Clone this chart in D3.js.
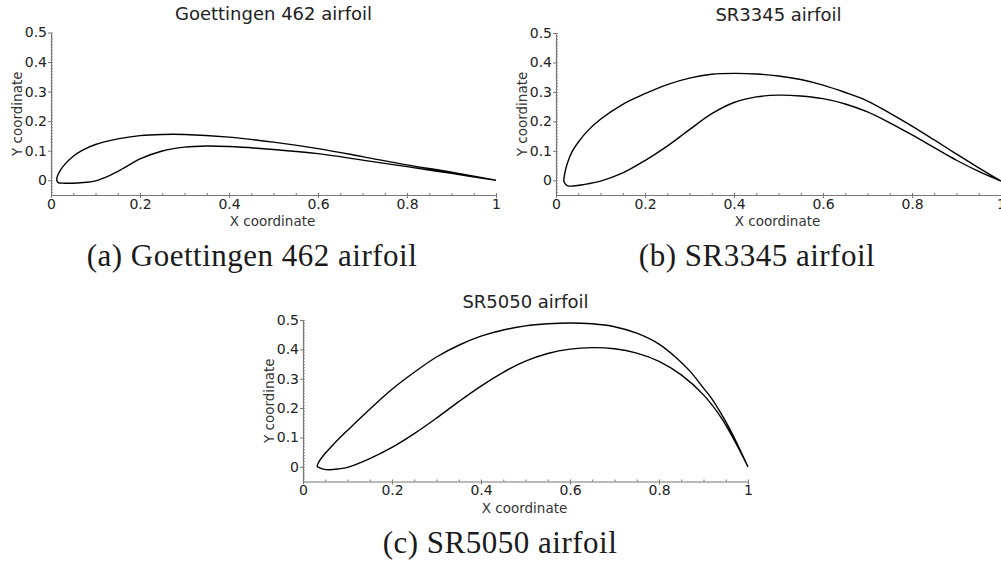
<!DOCTYPE html>
<html>
<head>
<meta charset="utf-8">
<script src="https://cdn.jsdelivr.net/npm/d3@7"></script>
<style>
  body { margin: 0; background: #fff; }
  svg { display: block; }
</style>
</head>
<body>
<svg id="fig" width="1001" height="563"></svg>
<script>
// plot titles and figure captions
const titles = ["Goettingen 462 airfoil", "SR3345 airfoil", "SR5050 airfoil"];
const captions = ["(a) Goettingen 462 airfoil", "(b) SR3345 airfoil", "(c) SR5050 airfoil"];

// tick values
const xTicks = [0, 0.2, 0.4, 0.6, 0.8, 1];
const yTicks = [0, 0.1, 0.2, 0.3, 0.4, 0.5];

// airfoil outlines: upper goes TE -> LE, lower goes LE -> TE
const goeUpper = [[1, 0], [0.9, 0.027], [0.8, 0.052], [0.7, 0.080], [0.6, 0.107], [0.5, 0.129], [0.4, 0.146],
  [0.3, 0.155], [0.25, 0.155], [0.2, 0.151], [0.15, 0.140], [0.1, 0.121], [0.07, 0.101], [0.05, 0.081],
  [0.03, 0.052], [0.02, 0.031], [0.014, 0.012], [0.013, 0]];
const goeLower = [[0.016, -0.008], [0.03, -0.010], [0.05, -0.010], [0.08, -0.007], [0.1, -0.002], [0.13, 0.015],
  [0.16, 0.038], [0.2, 0.072], [0.25, 0.099], [0.3, 0.112], [0.35, 0.116], [0.4, 0.114], [0.5, 0.104],
  [0.6, 0.090], [0.7, 0.068], [0.8, 0.046], [0.9, 0.023], [1, 0]];

const sr3345Upper = [[1, -0.003], [0.95, 0.042], [0.9, 0.089], [0.85, 0.137], [0.8, 0.184], [0.75, 0.228],
  [0.7, 0.269], [0.65, 0.298], [0.6, 0.323], [0.55, 0.342], [0.5, 0.354], [0.45, 0.361], [0.4, 0.363],
  [0.35, 0.360], [0.3, 0.347], [0.25, 0.325], [0.2, 0.294], [0.15, 0.258], [0.1, 0.207], [0.07, 0.166],
  [0.05, 0.129], [0.035, 0.094], [0.025, 0.055], [0.02, 0.025], [0.018, -0.005]];
const sr3345Lower = [[0.025, -0.018], [0.035, -0.020], [0.06, -0.015], [0.1, -0.003], [0.15, 0.025],
  [0.2, 0.067], [0.25, 0.116], [0.3, 0.172], [0.35, 0.226], [0.4, 0.264], [0.45, 0.283], [0.5, 0.289],
  [0.55, 0.286], [0.6, 0.277], [0.65, 0.259], [0.7, 0.232], [0.75, 0.195], [0.8, 0.154], [0.85, 0.111],
  [0.9, 0.068], [0.95, 0.030], [1, -0.003]];

const sr5050Upper = [[1, 0], [0.98, 0.065], [0.96, 0.126], [0.94, 0.180], [0.92, 0.229], [0.9, 0.268],
  [0.87, 0.325], [0.84, 0.370], [0.8, 0.418], [0.75, 0.455], [0.7, 0.477], [0.65, 0.487], [0.6, 0.490],
  [0.55, 0.487], [0.5, 0.480], [0.45, 0.466], [0.4, 0.445], [0.35, 0.414], [0.3, 0.374], [0.25, 0.322],
  [0.2, 0.264], [0.15, 0.196], [0.1, 0.124], [0.07, 0.079], [0.05, 0.046], [0.035, 0.015], [0.032, 0.002]];
const sr5050Lower = [[0.038, -0.004], [0.045, -0.008], [0.06, -0.010], [0.08, -0.007], [0.1, -0.002],
  [0.15, 0.028], [0.2, 0.066], [0.25, 0.113], [0.3, 0.166], [0.35, 0.222], [0.4, 0.275], [0.45, 0.322],
  [0.5, 0.360], [0.55, 0.386], [0.6, 0.401], [0.65, 0.406], [0.7, 0.402], [0.75, 0.387], [0.8, 0.359],
  [0.85, 0.313], [0.9, 0.245], [0.94, 0.167], [0.97, 0.088], [1, 0]];

const panels = [
  { title: titles[0], caption: captions[0], upper: goeUpper, lower: goeLower, left: 51, top: 32.5, bottom: 195, capX: 252, capY: 266 },
  { title: titles[1], caption: captions[1], upper: sr3345Upper, lower: sr3345Lower, left: 556, top: 33, bottom: 195, capX: 757, capY: 266 },
  { title: titles[2], caption: captions[2], upper: sr5050Upper, lower: sr5050Lower, left: 303, top: 320, bottom: 481.5, capX: 500, capY: 553 }
];

const plotW = 445;
const sans = "'DejaVu Sans', Verdana, sans-serif";
const svg = d3.select("#fig");

panels.forEach(p => {
  const x = d3.scaleLinear().domain([0, 1]).range([p.left, p.left + plotW]);
  const y = d3.scaleLinear().domain([-0.05, 0.5]).range([p.bottom, p.top]);
  const g = svg.append("g");

  // minor ticks (inside)
  g.append("g")
    .attr("transform", `translate(0,${p.bottom})`)
    .call(d3.axisBottom(x).tickValues(d3.range(0, 1.0001, 0.05)).tickSize(-2).tickSizeOuter(0).tickFormat(""))
    .call(a => a.select(".domain").remove())
    .call(a => a.selectAll("line").attr("stroke", "#777"));
  g.append("g")
    .attr("transform", `translate(${p.left},0)`)
    .call(d3.axisLeft(y).tickValues(d3.range(-0.05, 0.5001, 0.01)).tickSize(-2).tickSizeOuter(0).tickFormat(""))
    .call(a => a.select(".domain").remove())
    .call(a => a.selectAll("line").attr("stroke", "#999"));

  // main axes
  const xAxis = g.append("g")
    .attr("transform", `translate(0,${p.bottom})`)
    .call(d3.axisBottom(x).tickValues(xTicks).tickSize(3).tickSizeOuter(0).tickPadding(1).tickFormat(d => d));
  const yAxis = g.append("g")
    .attr("transform", `translate(${p.left},0)`)
    .call(d3.axisLeft(y).tickValues(yTicks).tickSize(3).tickSizeOuter(0).tickPadding(1).tickFormat(d => d));

  [xAxis, yAxis].forEach(a => {
    a.select(".domain").attr("stroke", "#777").attr("stroke-width", 1.2);
    a.selectAll(".tick line").attr("stroke", "#777");
    a.selectAll("text").attr("fill", "#222").style("font-family", sans).style("font-size", "14px");
  });

  // airfoil outline
  const line = d3.line()
    .x(d => x(d[0]))
    .y(d => y(d[1]))
    .curve(d3.curveCatmullRom.alpha(0.5));
  g.append("path")
    .datum(p.upper.concat(p.lower))
    .attr("d", line)
    .attr("fill", "none")
    .attr("stroke", "#000")
    .attr("stroke-width", 1.4);

  // title + axis labels
  g.append("text")
    .attr("x", p.left + plotW / 2)
    .attr("y", p.top - 12.5)
    .attr("text-anchor", "middle")
    .style("font-family", sans).style("font-size", "18px").attr("fill", "#222")
    .text(p.title);
  g.append("text")
    .attr("x", p.left + plotW / 2 - 1)
    .attr("y", p.bottom + 31)
    .attr("text-anchor", "middle")
    .style("font-family", sans).style("font-size", "13.5px").attr("fill", "#333")
    .text("X coordinate");
  g.append("text")
    .attr("transform", `translate(${p.left - 29},${(p.top + p.bottom) / 2}) rotate(-90)`)
    .attr("text-anchor", "middle")
    .style("font-family", sans).style("font-size", "13.5px").attr("fill", "#333")
    .text("Y coordinate");

  // caption below
  svg.append("text")
    .attr("x", p.capX)
    .attr("y", p.capY)
    .attr("text-anchor", "middle")
    .style("font-family", "'Liberation Serif', 'Times New Roman', serif")
    .style("font-size", "31px").style("letter-spacing", "0.5px").attr("fill", "#1a1a1a")
    .text(p.caption);
});
</script>
</body>
</html>
